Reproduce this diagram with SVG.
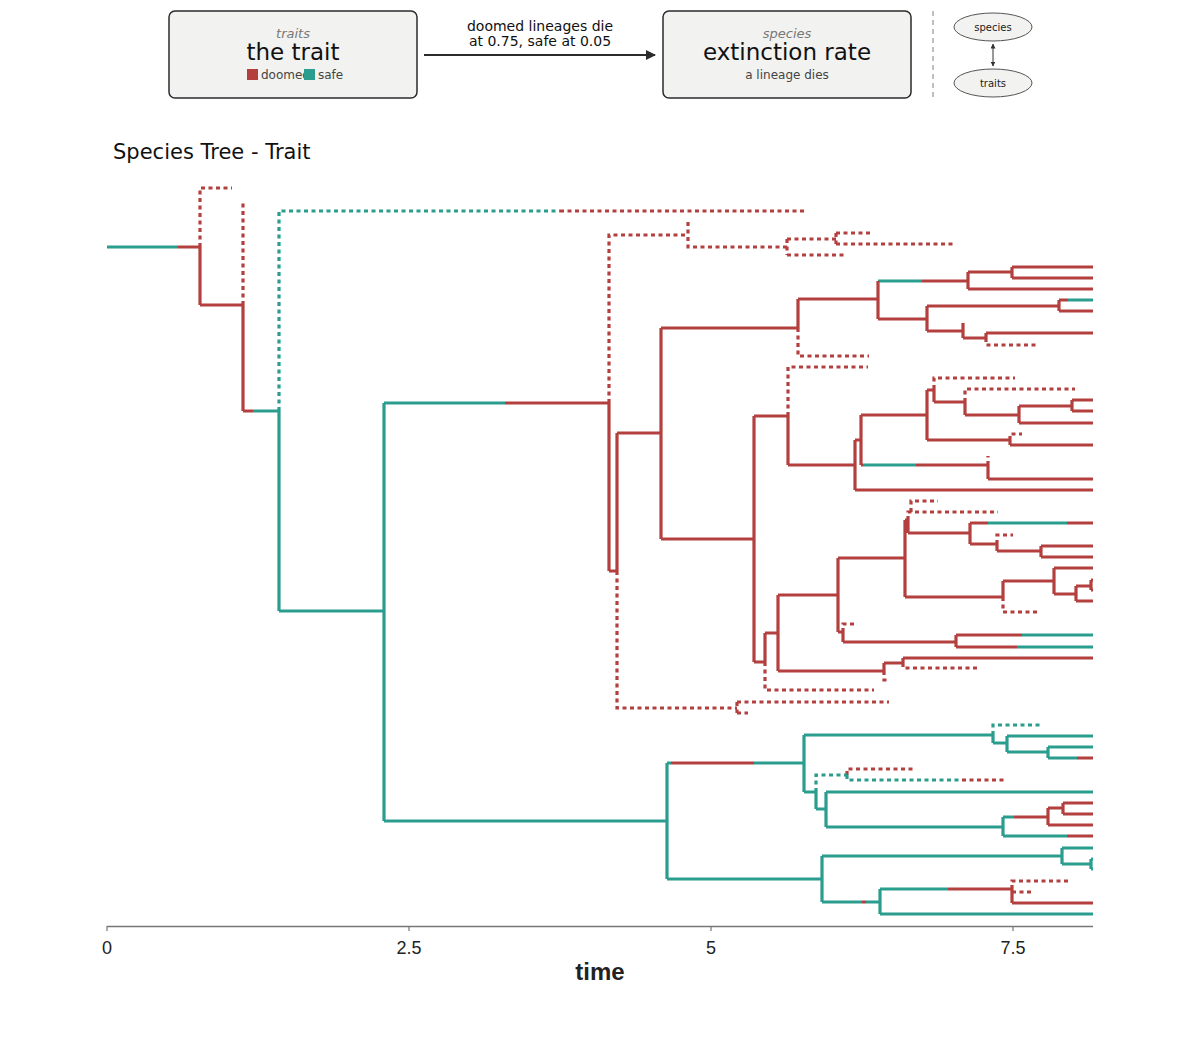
<svg xmlns="http://www.w3.org/2000/svg" width="1200" height="1046" viewBox="0 0 1200 1046">
<style>
.box{fill:#f2f2f0;stroke:#2b2b2b;stroke-width:1.5}
.ell{fill:#f2f2f0;stroke:#555;stroke-width:1}
.hs{font-family:"DejaVu Sans",sans-serif;text-anchor:middle}
.sub{font-style:italic;fill:#777;font-size:13px}
.big{fill:#111;font-size:23px}
.small{fill:#444;font-size:12px}
.r,.t,.rd,.td{fill:none;stroke-width:3.2;stroke-linecap:butt;stroke-linejoin:miter}
.r{stroke:#b3403e}
.t{stroke:#2a9d8f}
.rd{stroke:#b3403e;stroke-dasharray:4 3.5}
.td{stroke:#2a9d8f;stroke-dasharray:4 3.5}
.ax{font-family:"Liberation Sans Narrow","Liberation Sans",sans-serif;fill:#222}
</style>
<defs>
<marker id="ah" markerWidth="10" markerHeight="10" refX="9" refY="5" orient="auto" markerUnits="userSpaceOnUse">
<path d="M0,0 L10,5 L0,10 z" fill="#2b2b2b"/>
</marker>
<marker id="sm" markerWidth="5" markerHeight="5" refX="4.5" refY="2.5" orient="auto-start-reverse" markerUnits="userSpaceOnUse">
<path d="M0,0 L5,2.5 L0,5 z" fill="#333"/>
</marker>
</defs>
<rect width="1200" height="1046" fill="#fff"/>

<g id="node-trait">
<rect class="box" x="169" y="11" width="248" height="87" rx="6"/>
<text class="hs sub" x="293" y="38">traits</text>
<text class="hs big" x="293" y="60">the trait</text>
<rect x="247" y="69" width="11" height="11" fill="#b3403e"/>
<text x="261" y="79" font-family="DejaVu Sans,sans-serif" font-size="12" fill="#444">doomed</text>
<rect x="304" y="69" width="11" height="11" fill="#2a9d8f"/>
<text x="318" y="79" font-family="DejaVu Sans,sans-serif" font-size="12" fill="#444">safe</text>
</g>

<g id="node-extinction">
<rect class="box" x="663" y="11" width="248" height="87" rx="6"/>
<text class="hs sub" x="787" y="38">species</text>
<text class="hs big" x="787" y="60">extinction rate</text>
<text class="hs small" x="787" y="79">a lineage dies</text>
</g>

<g id="node-species">
<ellipse class="ell" cx="993" cy="27" rx="39" ry="14"/>
<text class="hs" x="993" y="31" font-size="10" fill="#222">species</text>
</g>
<g id="node-traits">
<ellipse class="ell" cx="993" cy="83" rx="39" ry="14"/>
<text class="hs" x="993" y="87" font-size="10" fill="#222">traits</text>
</g>

<g id="connectors">
<line x1="424" y1="55" x2="655" y2="55" stroke="#2b2b2b" stroke-width="2" marker-end="url(#ah)"/>
<text class="hs" x="540" y="31" font-size="14" fill="#111">doomed lineages die</text>
<text class="hs" x="540" y="46" font-size="14" fill="#111">at 0.75, safe at 0.05</text>
<line x1="993" y1="44" x2="993" y2="66" stroke="#333" stroke-width="1" marker-start="url(#sm)" marker-end="url(#sm)"/>
<line x1="933" y1="11" x2="933" y2="100" stroke="#aaa" stroke-width="1.5" stroke-dasharray="5 4"/>
</g>

<text x="113" y="159" font-family="DejaVu Sans,sans-serif" font-size="21" fill="#111">Species Tree - Trait</text>

<g id="tree">
<path class="t" d="M107 247H178 M253 411H279 M279 411V611 M279 611H384 M384 403V821 M384 403H505 M384 821H667 M667 763V879 M667 763H671 M754 763H804 M667 879H822 M804 735V792 M804 735H993 M993 735V743 M993 743H1007 M1007 736V752 M1007 736H1093 M1007 752H1048 M1048 747V758 M1048 747H1093 M1048 758H1077 M804 792H816 M816 792V809 M816 809H826 M826 792V827 M826 792H1093 M826 827H1003 M1003 817V836 M1003 817H1014 M1003 836H1067 M822 856V902 M822 856H1062 M1062 848V864 M1062 848H1093 M1062 864H1091 M1091 859V869 M1091 859H1093 M1091 869H1093 M822 902H862 M866 902H880 M880 889V914 M880 889H948 M880 914H1093 M878 281H922 M1068 300H1093 M863 465H916 M988 523H1067 M1022 635H1093 M1017 647H1093"/>
<path class="r" d="M178 247H200 M200 247V305 M200 305H243 M243 305V411 M243 411H253 M505 403H609 M609 403V571 M609 571H617 M617 433V571 M617 433H661 M661 328V539 M661 328H798 M798 299V328 M798 299H878 M878 281V319 M922 281H968 M968 272V289 M968 272H1012 M968 289H1093 M1012 267V278 M1012 267H1093 M1012 278H1093 M878 319H927 M927 306V331 M927 306H1059 M1059 300V311 M1059 300H1068 M1059 311H1093 M927 331H963 M963 327V338 M963 338H986 M986 333V338 M986 333H1093 M661 539H754 M754 416V662 M754 416H788 M788 416V465 M788 465H855 M855 440V490 M855 440H861 M855 490H1093 M861 415V465 M861 415H927 M861 465H863 M916 465H988 M988 465V479 M988 479H1093 M927 390V440 M927 390H934 M927 440H1010 M934 389V402 M934 402H965 M965 402V415 M965 415H1019 M1019 406V423 M1019 406H1072 M1019 423H1093 M1072 400V411 M1072 400H1093 M1072 411H1093 M1010 440V445 M1010 445H1093 M754 662H765 M765 633V662 M765 633H778 M778 595V671 M778 595H838 M778 671H884 M838 558V632 M838 558H905 M838 632H843 M843 632V642 M843 642H956 M956 635V647 M956 635H1022 M956 647H1017 M884 663V671 M884 663H903 M903 658V663 M903 658H1093 M905 520V597 M905 520H908 M908 520V533 M908 533H970 M970 523V544 M970 523H988 M1067 523H1093 M970 544H997 M997 544V551 M997 551H1041 M1041 546V557 M1041 546H1093 M1041 557H1093 M905 597H1003 M1003 581V597 M1003 581H1054 M1054 568V594 M1054 568H1093 M1054 594H1076 M1076 586V601 M1076 586H1091 M1076 601H1093 M1091 580V590 M1091 580H1093 M1091 590H1093 M671 763H754 M1077 758H1093 M1014 817H1048 M1048 808V825 M1048 808H1063 M1048 825H1093 M1063 803V814 M1063 803H1093 M1063 814H1093 M1067 836H1093 M862 902H866 M948 889H1012 M1012 889V903 M1012 903H1093"/>
<path class="rd" d="M200 247V188H232 M243 305V200 M560 211H806 M609 403V235H688 M688 222V247H787 M787 239V255 M787 239H836 M787 255H846 M836 233V244 M836 233H870 M836 244H956 M798 328V356H869 M963 327V321 M986 338V345H1037 M788 416V367H868 M988 465V456 M934 389V378H1015 M965 402V389H1075 M1010 440V434H1022 M617 571V708H737 M737 702V713 M737 702H889 M737 713H748 M765 662V690H874 M843 632V624H855 M884 671V680H889 M903 663V668H978 M908 520V512H998 M911 512V501H938 M997 544V535H1013 M1003 597V612H1038 M847 775V769H913 M962 780H1006 M1012 889V881H1068 M1012 892H1032"/>
<path class="td" d="M279 411V211H560 M993 735V725H1043 M816 792V775H847 M847 775V780H962"/>
</g>

<g id="axis">
<line x1="107" y1="926.5" x2="1093" y2="926.5" stroke="#777" stroke-width="1.5"/>
<path d="M107 926V931 M409 926V931 M711 926V931 M1013 926V931" stroke="#777" stroke-width="1.2"/>
<text class="ax" x="107" y="954" font-size="18" text-anchor="middle">0</text>
<text class="ax" x="409" y="954" font-size="18" text-anchor="middle">2.5</text>
<text class="ax" x="711" y="954" font-size="18" text-anchor="middle">5</text>
<text class="ax" x="1013" y="954" font-size="18" text-anchor="middle">7.5</text>
<text class="ax" x="600" y="980" font-size="24" font-weight="bold" text-anchor="middle">time</text>
</g>
</svg>
